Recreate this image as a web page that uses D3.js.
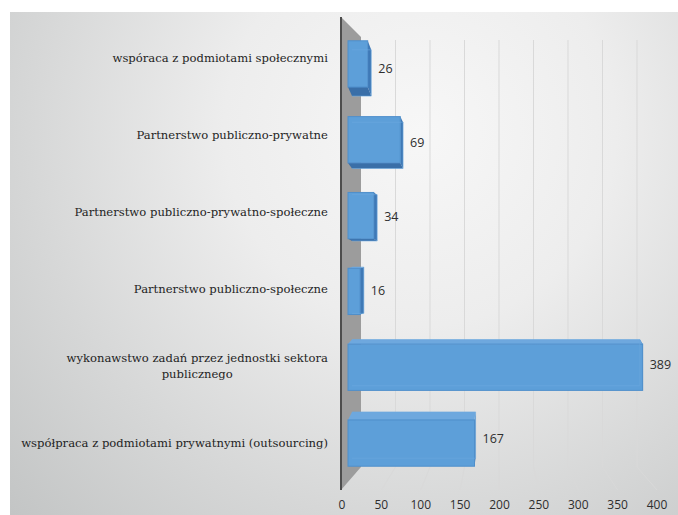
<!DOCTYPE html>
<html><head><meta charset="utf-8">
<script src="https://cdn.jsdelivr.net/npm/d3@7"></script>
<style>html,body{margin:0;padding:0;background:#fff;} svg{display:block}</style>
</head><body>
<svg id="chart" width="678" height="515"></svg>
<script>
// Forms of public task delivery (number of responses)
const categories = [
  "wspóraca z podmiotami społecznymi",
  "Partnerstwo publiczno-prywatne",
  "Partnerstwo publiczno-prywatno-społeczne",
  "Partnerstwo publiczno-społeczne",
  "wykonawstwo zadań przez jednostki sektora\npublicznego",
  "współpraca z podmiotami prywatnymi (outsourcing)"
];
const values = [26, 69, 34, 16, 389, 167];
const tickValues = [0, 50, 100, 150, 200, 250, 300, 350, 400];
const tickLabels = ["0", "50", "100", "150", "200", "250", "300", "350", "400"];

const svg = d3.select("#chart");
const W = 678, H = 515;
const domain = [0, 400];

// perspective planes of the 3D plot
const xFloorFront = d3.scaleLinear().domain(domain).range([342, 657]);
const xWall = d3.scaleLinear().domain(domain).range([361, 637]);
const xBarFront = d3.scaleLinear().domain(domain).range([348, 651]);
const xBarBack = d3.scaleLinear().domain(domain).range([352, 648]);
const wallTop = 40, wallBottom = 467, floorFront = 490, frontTop = 17;

const yBar = d3.scaleBand().domain(categories).range([26, 481])
  .paddingInner(0.39).paddingOuter(0.195);
const yLabel = d3.scalePoint().domain(categories).range([58, 443]);
const depthY = d3.scaleLinear().domain([65, 443]).range([9, -8]);

// background
const defs = svg.append("defs");
const grad = defs.append("radialGradient").attr("id", "bg")
  .attr("gradientUnits", "userSpaceOnUse")
  .attr("cx", 420).attr("cy", 130).attr("r", 560);
[[0, "#f7f7f7"], [0.35, "#ededed"], [0.7, "#d6d7d7"], [1, "#c3c5c5"]]
  .forEach(([o, c]) => grad.append("stop").attr("offset", o).attr("stop-color", c));
svg.append("rect").attr("x", 0).attr("y", 0).attr("width", W).attr("height", H).attr("fill", "#fff");
svg.append("rect").attr("x", 10).attr("y", 12).attr("width", W - 10).attr("height", H - 12)
  .attr("fill", "url(#bg)");

// gridlines: back wall verticals plus their floor continuation
const grid = svg.append("g").attr("stroke", "#d9d9d9").attr("stroke-width", 1).attr("fill", "none");
tickValues.slice(1).forEach(v => {
  grid.append("path").attr("d", d3.line()([
    [xWall(v), wallTop], [xWall(v), wallBottom], [xFloorFront(v), floorFront]
  ]));
});

// side wall
const x0f = xFloorFront(0) - 1, x0b = xWall(0);
svg.append("path")
  .attr("d", d3.line()([[x0f, frontTop], [x0b, wallTop - 3], [x0b, wallBottom], [x0f, floorFront]]) + "Z")
  .attr("fill", "#9c9c9c");
svg.append("line").attr("x1", x0f).attr("x2", x0f).attr("y1", frontTop).attr("y2", floorFront)
  .attr("stroke", "#4d4d4d").attr("stroke-width", 2);

// bars
const bars = svg.append("g");
categories.forEach((c, i) => {
  const v = values[i];
  const y0 = yBar(c), y1 = y0 + yBar.bandwidth();
  const dy = depthY(y0 + yBar.bandwidth() / 2);
  const fx0 = xBarFront(0), fx1 = xBarFront(v);
  const bx0 = xBarBack(0), bx1 = xBarBack(v);
  const g = bars.append("g");
  const poly = pts => d3.line()(pts) + "Z";
  // right side face
  g.append("path").attr("d", poly([[fx1, y0], [bx1, y0 + dy], [bx1, y1 + dy], [fx1, y1]]))
    .attr("fill", "#3f79b6");
  if (dy < 0) {
    g.append("path").attr("d", poly([[fx0, y0], [bx0, y0 + dy], [bx1, y0 + dy], [fx1, y0]]))
      .attr("fill", "#6ea8de");
  } else {
    g.append("path").attr("d", poly([[fx0, y1], [bx0, y1 + dy], [bx1, y1 + dy], [fx1, y1]]))
      .attr("fill", "#3a6fa8");
  }
  // front face
  g.append("rect").attr("x", fx0).attr("y", y0).attr("width", fx1 - fx0).attr("height", y1 - y0)
    .attr("fill", "#5d9fd9").attr("stroke", "#4f8fcb").attr("stroke-width", 1);
  // faint back edges seen through the face
  g.append("path").attr("d", d3.line()([[bx0, y0 + dy], [bx1, y0 + dy], [bx1, y1 + dy], [bx0, y1 + dy]]))
    .attr("fill", "none").attr("stroke", "#6aa8e0").attr("stroke-width", 1).attr("opacity", 0.6);

  // value label
  svg.append("text")
    .attr("x", Math.max(fx1, bx1) + 7)
    .attr("y", y0 + yBar.bandwidth() / 2 + dy / 2)
    .attr("dy", "0.35em")
    .attr("font-family", "'Open Sans', 'Liberation Sans', sans-serif")
    .attr("font-size", 12.5).attr("fill", "#2e2e2e")
    .text(v);
});

// category labels, right aligned block, lines centred to each other
const labelRight = 328;
categories.forEach(c => {
  const lines = c.split("\n");
  const t = svg.append("text")
    .attr("font-family", "'DejaVu Serif', serif")
    .attr("font-size", 11.6).attr("fill", "#1e1e1e")
    .attr("text-anchor", "middle");
  lines.forEach((ln, k) => {
    t.append("tspan").attr("x", 0)
      .attr("y", (k - (lines.length - 1) / 2) * 16)
      .attr("dy", "0.35em").text(ln);
  });
  const w = t.node().getBBox().width;
  t.attr("transform", `translate(${labelRight - w / 2},${yLabel(c)})`);
});

// x axis tick labels along the front floor edge
svg.append("g").selectAll("text").data(tickValues).join("text")
  .attr("x", d => xFloorFront(d))
  .attr("y", 505).attr("dy", "0.35em")
  .attr("text-anchor", "middle")
  .attr("font-family", "'Open Sans', 'Liberation Sans', sans-serif")
  .attr("font-size", 12).attr("fill", "#2e2e2e")
  .text((d, i) => tickLabels[i]);
</script>
</body></html>
